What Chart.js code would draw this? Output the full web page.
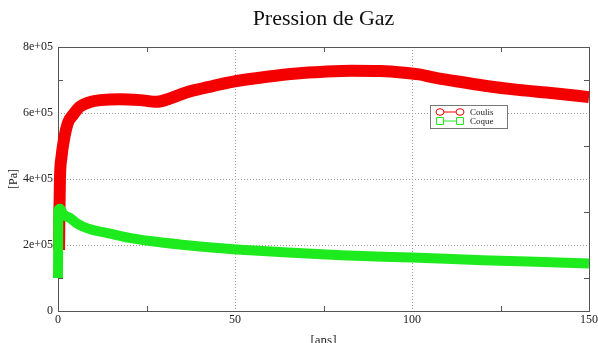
<!DOCTYPE html>
<html>
<head>
<meta charset="utf-8">
<script src="https://cdn.jsdelivr.net/npm/chart.js@4"></script>
<style>
  html, body { margin: 0; padding: 0; background: #fff; }
  #wrap { width: 598px; height: 343px; }
</style>
</head>
<body>
<div id="wrap"><canvas id="c" width="598" height="343"></canvas></div>
<script>
// Gas pressure over time [ans] for the two zones
const coulisYears = [0.3, 0.4, 0.55, 1.0, 1.7, 2.8, 4.3, 6.2, 9, 12, 17.5, 23.2, 27.9, 31.6, 36.4, 41, 45.8, 50.5, 59, 67.5, 75, 83, 91, 97, 102, 106, 112, 121, 130, 140, 150];
const coulisPa    = [1.85e5, 3.0e5, 4.0e5, 4.67e5, 5.2e5, 5.7e5, 5.95e5, 6.19e5, 6.33e5, 6.39e5, 6.42e5, 6.39e5, 6.34e5, 6.44e5, 6.63e5, 6.75e5, 6.87e5, 6.97e5, 7.1e5, 7.2e5, 7.25e5, 7.28e5, 7.27e5, 7.23e5, 7.17e5, 7.08e5, 6.97e5, 6.82e5, 6.7e5, 6.6e5, 6.48e5];

const coqueYears = [0, 0.05, 0.1, 0.6, 1.4, 2.2, 3.4, 5, 7, 10, 13.7, 16.5, 21, 26, 35, 45, 53, 65, 80, 100, 120, 135, 150];
const coquePa    = [1.0e5, 2.0e5, 3.05e5, 3.1e5, 2.95e5, 2.88e5, 2.82e5, 2.68e5, 2.56e5, 2.45e5, 2.37e5, 2.3e5, 2.2e5, 2.12e5, 2.01e5, 1.91e5, 1.85e5, 1.77e5, 1.69e5, 1.62e5, 1.54e5, 1.49e5, 1.44e5];

const seriesNames = ['Coulis', 'Coque'];
const yTickLabels = ['0', '2e+05', '4e+05', '6e+05', '8e+05'];
const xTickLabels = ['0', '50', '100', '150'];
const yMinorTicks = [1e5, 3e5, 5e5, 7e5];
const xMinorTicks = [25, 75, 125];

const RED = 'rgb(245,0,0)';
const GREEN = 'rgb(30,235,30)';
const SERIF = '"Liberation Serif", "DejaVu Serif", serif';

const toPoints = (xs, ys) => xs.map((x, i) => ({ x: x, y: ys[i] }));

// Box frame and small inner ticks, drawn under the curves
const framePlugin = {
  id: 'frame',
  beforeDatasetsDraw(chart) {
    const { ctx, chartArea: a, scales: { x, y } } = chart;
    ctx.save();
    ctx.strokeStyle = '#555';
    ctx.lineWidth = 1;
    ctx.strokeRect(Math.round(a.left) + 0.5, Math.round(a.top) + 0.5,
                   Math.round(a.right - a.left), Math.round(a.bottom - a.top));
    ctx.beginPath();
    yMinorTicks.forEach(v => {
      const py = Math.round(y.getPixelForValue(v)) + 0.5;
      ctx.moveTo(a.left, py); ctx.lineTo(a.left + 5, py);
      ctx.moveTo(a.right, py); ctx.lineTo(a.right - 5, py);
    });
    xMinorTicks.forEach(v => {
      const px = Math.round(x.getPixelForValue(v)) + 0.5;
      ctx.moveTo(px, a.top); ctx.lineTo(px, a.top + 5);
      ctx.moveTo(px, a.bottom); ctx.lineTo(px, a.bottom - 5);
    });
    ctx.stroke();
    ctx.restore();
  }
};

// Boxed key with line + marker symbols
const keyPlugin = {
  id: 'key',
  afterDatasetsDraw(chart) {
    const { ctx, chartArea: a } = chart;
    const bx = a.right - 159, by = a.top + 58, bw = 77, bh = 23;
    ctx.save();
    ctx.fillStyle = '#fff';
    ctx.fillRect(bx, by, bw, bh);
    ctx.strokeStyle = '#777';
    ctx.lineWidth = 1;
    ctx.strokeRect(bx + 0.5, by + 0.5, bw, bh);
    const rows = [
      { name: seriesNames[0], color: RED, shape: 'circle', y: by + 7 },
      { name: seriesNames[1], color: GREEN, shape: 'square', y: by + 16 }
    ];
    rows.forEach(r => {
      ctx.strokeStyle = r.color;
      ctx.lineWidth = 1;
      ctx.beginPath();
      ctx.moveTo(bx + 10, r.y); ctx.lineTo(bx + 30, r.y);
      ctx.stroke();
      [bx + 10, bx + 30].forEach(cx => {
        ctx.fillStyle = '#fff';
        ctx.beginPath();
        if (r.shape === 'circle') {
          ctx.ellipse(cx, r.y, 4, 3.3, 0, 0, Math.PI * 2);
        } else {
          ctx.rect(cx - 3.5, r.y - 3.5, 7, 7);
        }
        ctx.fill();
        ctx.stroke();
      });
      ctx.fillStyle = '#222';
      ctx.font = '9px ' + SERIF;
      ctx.textBaseline = 'middle';
      ctx.textAlign = 'left';
      ctx.fillText(r.name, bx + 40, r.y + 0.5);
    });
    ctx.restore();
  }
};

new Chart(document.getElementById('c'), {
  type: 'line',
  data: {
    datasets: [
      {
        label: seriesNames[0],
        data: toPoints(coulisYears, coulisPa),
        borderColor: RED,
        backgroundColor: RED,
        borderWidth: 12,
        pointRadius: 0,
        cubicInterpolationMode: 'monotone',
        clip: false,
        order: 2
      },
      {
        label: seriesNames[1],
        data: toPoints(coqueYears, coquePa),
        borderColor: GREEN,
        backgroundColor: GREEN,
        borderWidth: 10,
        pointRadius: 0,
        cubicInterpolationMode: 'monotone',
        clip: false,
        order: 1
      }
    ]
  },
  options: {
    responsive: false,
    animation: false,
    events: [],
    layout: { padding: { left: 0, right: 9, top: 0, bottom: 0 } },
    plugins: {
      legend: { display: false },
      tooltip: { enabled: false },
      title: {
        display: true,
        text: 'Pression de Gaz',
        fullSize: false,
        color: '#111',
        font: { family: SERIF, size: 22, weight: 'normal' },
        padding: { top: 6, bottom: 14.6 }
      }
    },
    scales: {
      x: {
        type: 'linear',
        min: 0,
        max: 150,
        afterFit(s) { s.height = 32; s.paddingLeft = 0; s.paddingRight = 0; },
        ticks: {
          stepSize: 50,
          padding: 2,
          color: '#222',
          font: { family: SERIF, size: 12 },
          maxRotation: 0,
          callback: (v) => { const i = [0, 50, 100, 150].indexOf(v); return i >= 0 ? xTickLabels[i] : ''; }
        },
        grid: {
          drawTicks: false,
          color: (c) => (c.tick && (c.tick.value === 0 || c.tick.value === 150)) ? 'rgba(0,0,0,0)' : '#999',
          lineWidth: 1
        },
        border: { display: false, dash: [1, 2] },
        title: {
          display: true,
          text: '[ans]',
          color: '#222',
          font: { family: SERIF, size: 13 },
          padding: { top: 0, bottom: -5 }
        }
      },
      y: {
        type: 'linear',
        min: 0,
        max: 8e5,
        afterFit(s) { s.width = 58; s.paddingTop = 0; s.paddingBottom = 0; },
        ticks: {
          stepSize: 2e5,
          padding: 5,
          color: '#222',
          font: { family: SERIF, size: 12 },
          callback: (v) => { const i = Math.round(v / 2e5); return yTickLabels[i] !== undefined ? yTickLabels[i] : ''; }
        },
        grid: {
          drawTicks: false,
          color: (c) => (c.tick && (c.tick.value === 0 || c.tick.value === 8e5)) ? 'rgba(0,0,0,0)' : '#999',
          lineWidth: 1
        },
        border: { display: false, dash: [1, 2] },
        title: {
          display: true,
          text: '[Pa]',
          color: '#222',
          font: { family: SERIF, size: 12 },
          padding: { top: 7, bottom: 0 }
        }
      }
    }
  },
  plugins: [framePlugin, keyPlugin]
});
</script>
</body>
</html>
